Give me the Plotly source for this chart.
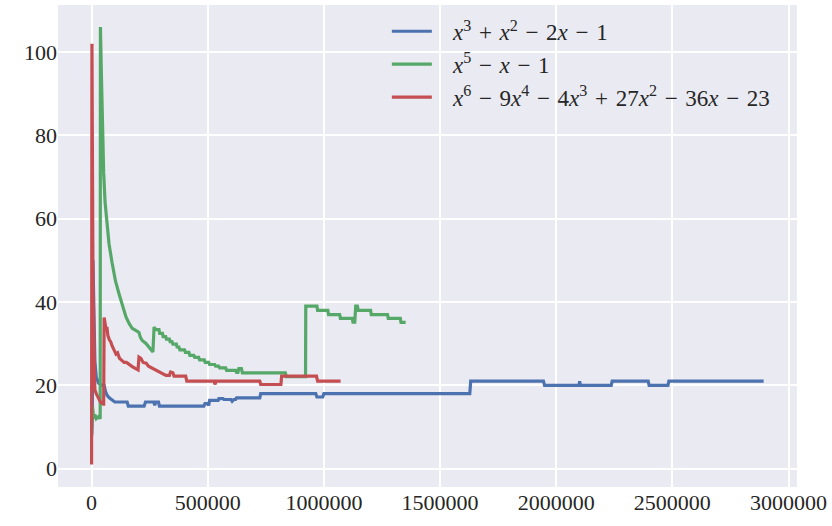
import plotly.graph_objects as go

# ---- data ----
blue_x = [0, 3000, 6000, 10000, 14000, 20000, 30000, 45000, 54000, 60000, 67000, 76000, 89000,
          100000, 153000, 158000, 226000, 232000, 268000, 272000, 276000, 288000, 292000,
          483000, 488000, 500000, 504000, 508000, 545000, 548000, 566000, 570000, 600000,
          605000, 612000, 620000, 624000, 724000, 728000, 965000, 970000, 995000, 1000000,
          1628000, 1632000, 1945000, 1950000, 2098000, 2101000, 2104000, 2237000, 2241000,
          2396000, 2400000, 2481000, 2485000, 2893000]
blue_y = [8, 12, 50, 34, 26, 22, 20.5, 20, 20, 18.5, 17.6, 17, 16.5,
          16, 16, 15, 15, 16, 16, 15.2, 16, 16, 15,
          15, 15.6, 15.6, 15.2, 16.4, 16.4, 16.8, 16.8, 16.6, 16.6,
          16.2, 16.6, 16.6, 17, 17, 18, 18, 17.2, 17.2, 18,
          18, 21, 21, 20, 20, 21, 20, 20, 21,
          21, 20, 20, 21, 21]

green_x = [0, 4000, 9000, 14000, 20000, 30000, 37000, 38000, 42000, 47000, 52000, 58000, 65000,
           75000, 88000, 103000, 118000, 135000, 148000, 162000, 175000, 190000, 204000,
           210000, 218000, 235000, 248000, 258000, 264000, 269000, 275000, 290000, 293000,
           305000, 308000, 319000, 322000, 335000, 338000, 346000, 350000, 365000, 368000,
           376000, 380000, 400000, 404000, 419000, 423000, 440000, 444000, 461000, 465000,
           485000, 489000, 504000, 508000, 530000, 534000, 547000, 551000, 577000, 581000,
           620000, 624000, 630000, 634000, 645000, 649000, 834000, 838000, 921000, 922000,
           970000, 973000, 1017000, 1020000, 1068000, 1071000, 1122000, 1125000, 1133000,
           1137000, 1144000, 1148000, 1201000, 1204000, 1274000, 1277000, 1329000, 1332000,
           1352000]
green_y = [8, 15, 12, 13, 12, 12.5, 12, 106, 95, 80, 71, 64, 59,
           54, 49.5, 45, 42, 38.5, 36.4, 34.8, 33.7, 33.2, 32.7,
           31.5, 30.8, 30, 29, 28.2, 28, 34, 33.4, 33.4, 32.5,
           32.5, 31.7, 31.7, 31.1, 31.1, 30.5, 30.5, 29.9, 29.9, 29.2,
           29.2, 28.5, 28.5, 27.9, 27.9, 27.2, 27.2, 26.7, 26.7, 26.1,
           26.1, 25.5, 25.5, 25, 25, 24.6, 24.6, 24.2, 24.2, 23.6,
           23.6, 23.1, 23.1, 24, 24, 23, 23, 22.1, 22.1, 39,
           39, 38, 38, 37, 37, 36.1, 36.1, 35.2, 35.2,
           39, 39, 38, 38, 37, 37, 36.1, 36.1, 35.1,
           35.1]

red_x = [0, 1500, 6000, 10000, 14000, 20000, 28000, 38000, 50000, 52000, 54000, 58000, 62000,
         66000, 70000, 76000, 82000, 88000, 95000, 105000, 112000, 120000, 130000, 140000,
         150000, 160000, 175000, 190000, 200000, 204000, 212000, 222000, 235000, 245000,
         258000, 270000, 290000, 305000, 320000, 335000, 340000, 350000, 355000, 405000,
         410000, 528000, 531000, 536000, 724000, 728000, 815000, 818000, 968000, 973000,
         1072000]
red_y = [1, 102, 45, 24, 19, 18, 17, 16, 15.5, 15.5, 36.3, 35, 33.5,
         34, 32, 31, 30.5, 29.5, 28.5, 27.5, 27.8, 26.5, 26, 25.5,
         25.5, 25, 24.5, 24, 23.7, 26.8, 26.5, 25.5, 25.3, 24.6,
         24.2, 23.8, 23.2, 22.8, 22.4, 22.4, 23.2, 23, 22.2, 22.2,
         21, 21, 20.2, 21, 21, 20.2, 20.2, 22.2, 22.2, 21,
         21]

H = "\u200a"
names = [
    f"<i>x</i><sup>3</sup> {H}+{H} <i>x</i><sup>2</sup> {H}−{H} 2<i>x</i> {H}−{H} 1",
    f"<i>x</i><sup>5</sup> {H}−{H} <i>x</i> {H}−{H} 1",
    f"<i>x</i><sup>6</sup> {H}−{H} 9<i>x</i><sup>4</sup> {H}−{H} 4<i>x</i><sup>3</sup> {H}+{H} 27<i>x</i><sup>2</sup> {H}−{H} 36<i>x</i> {H}−{H} 23",
]
colors = ["#4C72B0", "#55A868", "#C44E52"]
x_ticks = [0, 500000, 1000000, 1500000, 2000000, 2500000, 3000000]
y_ticks = [0, 20, 40, 60, 80, 100]

fig = go.Figure()
for xs, ys, nm, c in zip([blue_x, green_x, red_x], [blue_y, green_y, red_y], names, colors):
    fig.add_trace(go.Scatter(x=xs, y=ys, mode="lines", name="\u2002\u2009" + nm,
                             line=dict(color=c, width=3.2)))

font_family = "Liberation Serif"
fig.update_layout(
    width=832, height=526,
    margin=dict(l=58, r=31, t=5, b=39),
    paper_bgcolor="white",
    plot_bgcolor="#EAEAF2",
    font=dict(family=font_family, size=22, color="#262626"),
    showlegend=True,
    legend=dict(x=0.445, y=0.99, xanchor="left", yanchor="top",
                bgcolor="rgba(0,0,0,0)", font=dict(size=23, family=font_family),
                tracegroupgap=0, itemwidth=40),
)
fig.update_xaxes(range=[-144600, 3036600], tickvals=x_ticks,
                 ticktext=[str(v) for v in x_ticks],
                 showgrid=True, gridcolor="white", gridwidth=1.6,
                 zeroline=False, showline=False, ticks="")
fig.update_yaxes(range=[-4.4, 111.3], tickvals=y_ticks,
                 ticktext=[str(v) for v in y_ticks],
                 showgrid=True, gridcolor="white", gridwidth=1.6,
                 zeroline=False, showline=False, ticks="")

fig.write_html("out.html")
